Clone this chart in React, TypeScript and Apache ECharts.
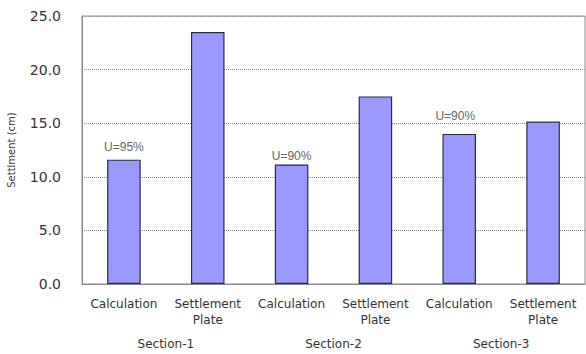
import React, { useEffect, useRef } from "react";
import * as echarts from "echarts";

// Bar categories and groups
const categories = ["Calculation", "Settlement\nPlate", "Calculation", "Settlement\nPlate", "Calculation", "Settlement\nPlate"];
const sections = ["Section-1", "Section-2", "Section-3"];
// Settlement values (cm)
const settlement = [11.6, 23.5, 11.15, 17.5, 14.0, 15.15];
// Degree-of-consolidation notes above calculation bars
const uLabels = ["U=95%", "", "U=90%", "", "U=90%", ""];
const uOffsets: [number, number][] = [[0, -2], [0, 3], [0, 3], [0, 0], [-4, -7], [0, 0]];
const yTicks = { min: 0, max: 25, interval: 5 };

export default function App() {
  const ref = useRef<HTMLDivElement>(null);

  useEffect(() => {
    document.body.style.margin = "0";
    const chart = echarts.init(ref.current!, null, { renderer: "svg" });
    const axisFont = "DejaVu Sans";
    chart.setOption({
      animation: false,
      backgroundColor: "#ffffff",
      grid: {
        left: 82,
        right: 1,
        top: 16,
        bottom: 70,
        show: true,
        borderColor: "#8a8a8a",
        borderWidth: 1,
        containLabel: false,
        outerBoundsMode: "none",
      },
      xAxis: [
        {
          type: "category",
          data: categories,
          axisLine: { show: true, lineStyle: { color: "#8a8a8a", width: 1 } },
          axisTick: { show: false },
          axisLabel: {
            color: "#333",
            fontFamily: axisFont,
            fontSize: 12,
            lineHeight: 16,
            margin: 12,
            interval: 0,
          },
        },
        {
          type: "category",
          data: sections,
          position: "bottom",
          offset: 42,
          axisLine: { show: false },
          axisTick: { show: false },
          axisLabel: {
            color: "#333",
            fontFamily: axisFont,
            fontSize: 12,
            margin: 12,
            interval: 0,
          },
        },
      ],
      yAxis: {
        type: "value",
        min: yTicks.min,
        max: yTicks.max,
        interval: yTicks.interval,
        name: "Settlment (cm)",
        nameLocation: "middle",
        nameGap: 66,
        nameTextStyle: { color: "#333", fontFamily: axisFont, fontSize: 10 },
        axisLine: { show: true, lineStyle: { color: "#8a8a8a", width: 1 } },
        axisTick: { show: false },
        axisLabel: {
          color: "#333",
          fontFamily: axisFont,
          fontSize: 14,
          margin: 21,
          formatter: (v: number) => v.toFixed(1),
        },
        splitLine: { show: true, lineStyle: { color: "#8a8a8a", type: "dotted", width: 1 } },
      },
      series: [
        {
          type: "bar",
          xAxisIndex: 0,
          barWidth: "40%",
          data: settlement.map((v, i) => ({
            value: v,
            label: uLabels[i]
              ? {
                  show: true,
                  position: "top",
                  formatter: uLabels[i],
                  offset: uOffsets[i],
                  color: "#666",
                  fontFamily: "Liberation Sans",
                  fontSize: 12,
                }
              : { show: false },
          })),
          itemStyle: {
            color: "#9999ff",
            borderColor: "#2c2c3c",
            borderWidth: 1.2,
          },
        },
      ],
    });
    return () => chart.dispose();
  }, []);

  return <div ref={ref} style={{ width: 586, height: 354 }} />;
}
